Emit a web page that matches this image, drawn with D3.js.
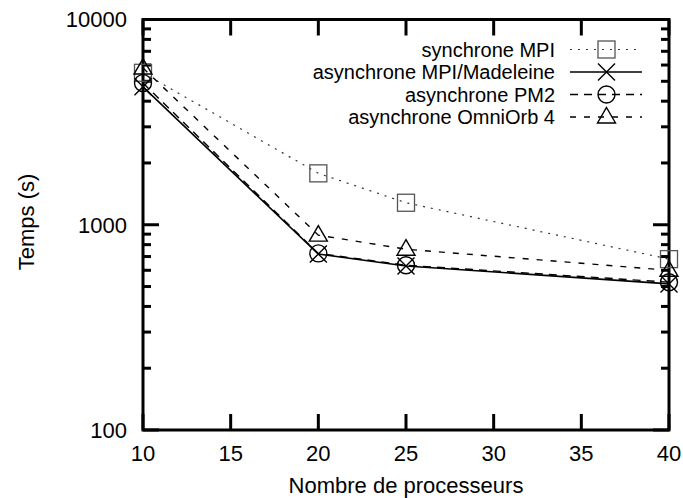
<!DOCTYPE html>
<html><head><meta charset="utf-8">
<script src="https://cdn.jsdelivr.net/npm/d3@7"></script>
<style>body{margin:0;background:#fff}svg{display:block}text{font-family:"Liberation Sans",Arial,sans-serif;fill:#000}</style>
</head><body><svg id="c" width="683" height="498"></svg>
<script>
const procs = [10, 20, 25, 40];
const syncMPI = [5500, 1780, 1280, 680];
const asyncMadeleine = [4700, 720, 630, 515];
const asyncPM2 = [4900, 725, 635, 525];
const asyncOmni = [5800, 890, 760, 600];
const seriesNames = ["synchrone MPI", "asynchrone MPI/Madeleine", "asynchrone PM2", "asynchrone OmniOrb 4"];
const xTicks = [10, 15, 20, 25, 30, 35, 40];
const yTicks = [100, 1000, 10000];
const xTitle = "Nombre de processeurs";
const yTitle = "Temps (s)";

const FS = 22, LFS = 20;
const svg = d3.select("#c");
const L = 143, R = 669, T = 19.5, B = 430;
const x = d3.scaleLinear().domain([10, 40]).range([L, R]);
const y = d3.scaleLog().domain([100, 10000]).range([B, T]);

const styles = [
  {dash: "2,6", width: 1.2, stroke: "#333", marker: "square"},
  {dash: null, width: 1.6, stroke: "#000", marker: "cross"},
  {dash: "8,6", width: 1.4, stroke: "#000", marker: "circle"},
  {dash: "6,8", width: 1.4, stroke: "#000", marker: "triangle"}
];
const series = [syncMPI, asyncMadeleine, asyncPM2, asyncOmni];

const minor = [];
[100, 1000].forEach(d => { for (let k = 2; k <= 9; k++) minor.push(d * k); });
const g = svg.append("g");
minor.forEach(v => {
  g.append("line").attr("x1", L).attr("x2", L + 8).attr("y1", y(v)).attr("y2", y(v)).attr("stroke", "#000").attr("stroke-width", 3);
  g.append("line").attr("x1", R).attr("x2", R - 8).attr("y1", y(v)).attr("y2", y(v)).attr("stroke", "#000").attr("stroke-width", 3);
});
yTicks.forEach(v => {
  g.append("line").attr("x1", L).attr("x2", L + 16).attr("y1", y(v)).attr("y2", y(v)).attr("stroke", "#000").attr("stroke-width", 3);
  g.append("line").attr("x1", R).attr("x2", R - 16).attr("y1", y(v)).attr("y2", y(v)).attr("stroke", "#000").attr("stroke-width", 3);
  g.append("text").attr("x", 127).attr("y", y(v)).attr("dy", "0.36em").attr("text-anchor", "end").attr("font-size", FS).text(v);
});
xTicks.forEach(v => {
  g.append("line").attr("x1", x(v)).attr("x2", x(v)).attr("y1", B).attr("y2", B - 16).attr("stroke", "#000").attr("stroke-width", 3);
  g.append("line").attr("x1", x(v)).attr("x2", x(v)).attr("y1", T).attr("y2", T + 16).attr("stroke", "#000").attr("stroke-width", 3);
  g.append("text").attr("x", x(v)).attr("y", 461).attr("text-anchor", "middle").attr("font-size", FS).text(v);
});
g.append("rect").attr("x", L).attr("y", T).attr("width", R - L).attr("height", B - T).attr("fill", "none").attr("stroke", "#000").attr("stroke-width", 3);

g.append("text").attr("x", (L + R) / 2).attr("y", 493).attr("text-anchor", "middle").attr("font-size", FS).text(xTitle);
g.append("text").attr("transform", "translate(34,222) rotate(-90)").attr("text-anchor", "middle").attr("font-size", FS).text(yTitle);

function marker(sel, type, cx, cy) {
  const s = 8.5;
  if (type === "square") sel.append("rect").attr("x", cx - s).attr("y", cy - s).attr("width", 2 * s).attr("height", 2 * s).attr("fill", "none").attr("stroke", "#555").attr("stroke-width", 1.3);
  if (type === "cross") sel.append("path").attr("d", `M${cx - s},${cy - s}L${cx + s},${cy + s}M${cx - s},${cy + s}L${cx + s},${cy - s}`).attr("stroke", "#000").attr("stroke-width", 1.4);
  if (type === "circle") sel.append("circle").attr("cx", cx).attr("cy", cy).attr("r", s).attr("fill", "none").attr("stroke", "#000").attr("stroke-width", 1.4);
  if (type === "triangle") sel.append("path").attr("d", `M${cx},${cy - s - 1}L${cx + s + 0.5},${cy + s - 2.5}L${cx - s - 0.5},${cy + s - 2.5}Z`).attr("fill", "none").attr("stroke", "#000").attr("stroke-width", 1.4);
}

const line = d3.line().x((d, i) => x(procs[i])).y(d => y(d));
series.forEach((vals, si) => {
  const st = styles[si];
  const p = svg.append("path").datum(vals).attr("d", line).attr("fill", "none").attr("stroke", st.stroke).attr("stroke-width", st.width);
  if (st.dash) p.attr("stroke-dasharray", st.dash);
  vals.forEach((v, i) => marker(svg, st.marker, x(procs[i]), y(v)));
});

const ly0 = 49.5, ldy = 22.5;
seriesNames.forEach((name, i) => {
  const st = styles[i];
  const yy = ly0 + i * ldy;
  svg.append("text").attr("x", 555).attr("y", yy).attr("dy", "0.36em").attr("text-anchor", "end").attr("font-size", LFS).text(name);
  const l = svg.append("line").attr("x1", 570).attr("x2", 642).attr("y1", yy).attr("y2", yy).attr("stroke", st.stroke).attr("stroke-width", st.width);
  if (st.dash) l.attr("stroke-dasharray", st.dash);
  marker(svg, st.marker, 606.5, yy);
});
</script></body></html>
